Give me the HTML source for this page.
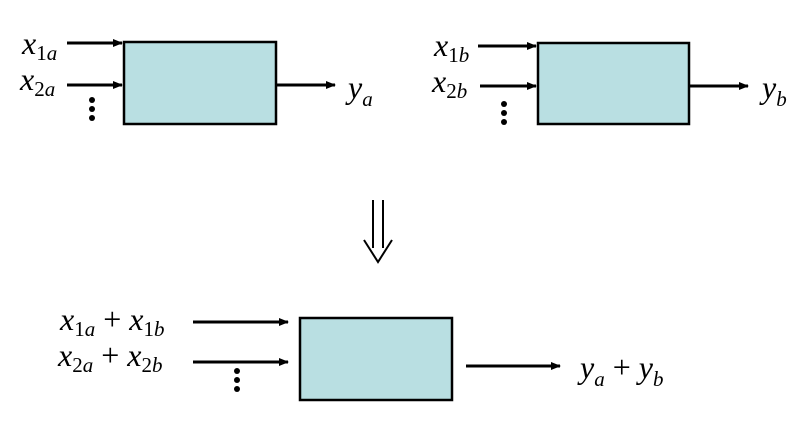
<!DOCTYPE html>
<html><head><meta charset="utf-8"><style>body{margin:0;background:#fff}svg{display:block}</style></head>
<body>
<svg width="798" height="430" viewBox="0 0 798 430" xmlns="http://www.w3.org/2000/svg" font-family="Liberation Serif, serif">
<defs><marker id="ah" markerWidth="10" markerHeight="8" refX="9" refY="4" orient="auto" markerUnits="userSpaceOnUse"><path d="M0,0 L10,4 L0,8 Z" fill="#000"/></marker></defs>
<g fill="#b9dfe2" stroke="#000" stroke-width="2.5">
<rect x="124" y="42" width="152" height="82"/>
<rect x="538" y="43" width="151" height="81"/>
<rect x="300" y="318" width="152" height="82"/>
</g>
<g stroke="#000" stroke-width="3" marker-end="url(#ah)">
<line x1="67" y1="43" x2="122" y2="43"/>
<line x1="67" y1="85" x2="122" y2="85"/>
<line x1="277" y1="85" x2="335" y2="85"/>
<line x1="478" y1="46" x2="536" y2="46"/>
<line x1="480" y1="86" x2="536" y2="86"/>
<line x1="690" y1="86" x2="748" y2="86"/>
<line x1="193" y1="322" x2="288" y2="322"/>
<line x1="193" y1="362" x2="288" y2="362"/>
<line x1="466" y1="366" x2="560" y2="366"/>
</g>
<g fill="#000">
<circle cx="92" cy="100" r="3"/><circle cx="92" cy="109" r="3"/><circle cx="92" cy="118" r="3"/>
<circle cx="504" cy="104" r="3"/><circle cx="504" cy="113" r="3"/><circle cx="504" cy="122" r="3"/>
<circle cx="237" cy="371" r="3"/><circle cx="237" cy="380" r="3"/><circle cx="237" cy="389" r="3"/>
</g>
<path d="M373,200 V248 M383,200 V248 M364,240 L378,262 L392,240" fill="none" stroke="#000" stroke-width="2"/>
<g font-size="32" font-style="italic">
<text x="22" y="54">x<tspan font-size="21" dy="6" font-style="normal">1</tspan><tspan font-size="21">a</tspan></text>
<text x="20" y="90">x<tspan font-size="21" dy="6" font-style="normal">2</tspan><tspan font-size="21">a</tspan></text>
<text x="348" y="98">y<tspan font-size="21" dy="8">a</tspan></text>
<text x="434" y="56">x<tspan font-size="21" dy="6" font-style="normal">1</tspan><tspan font-size="21">b</tspan></text>
<text x="432" y="92">x<tspan font-size="21" dy="6" font-style="normal">2</tspan><tspan font-size="21">b</tspan></text>
<text x="762" y="98">y<tspan font-size="21" dy="8">b</tspan></text>
<text x="60" y="330">x<tspan font-size="21" dy="6" font-style="normal">1</tspan><tspan font-size="21">a</tspan><tspan dy="-6" font-style="normal"> + </tspan>x<tspan font-size="21" dy="6" font-style="normal">1</tspan><tspan font-size="21">b</tspan></text>
<text x="58" y="366">x<tspan font-size="21" dy="6" font-style="normal">2</tspan><tspan font-size="21">a</tspan><tspan dy="-6" font-style="normal"> + </tspan>x<tspan font-size="21" dy="6" font-style="normal">2</tspan><tspan font-size="21">b</tspan></text>
<text x="580" y="378">y<tspan font-size="21" dy="8">a</tspan><tspan dy="-8" font-style="normal"> + </tspan>y<tspan font-size="21" dy="8">b</tspan></text>
</g>
</svg>
</body></html>
